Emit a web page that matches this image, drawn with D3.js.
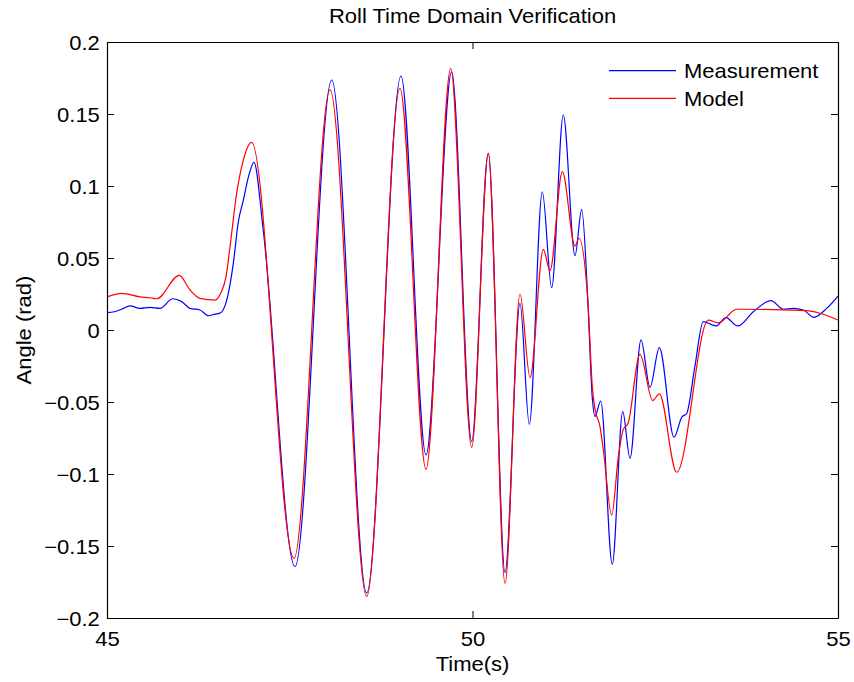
<!DOCTYPE html>
<html>
<head>
<meta charset="utf-8">
<script src="https://cdn.jsdelivr.net/npm/d3@7"></script>
<style>
  html, body { margin: 0; padding: 0; background: #fff; }
  svg { display: block; font-family: "Liberation Sans", Arial, Helvetica, sans-serif; }
</style>
</head>
<body>
<svg id="chart" width="854" height="682"></svg>
<script>
// ---------- data ----------
const title = "Roll Time Domain Verification";
const xLabel = "Time(s)";
const yLabel = "Angle (rad)";
const seriesNames = ["Measurement", "Model"];
const xTicks = [45, 50, 55];
const yTicks = [-0.2, -0.15, -0.1, -0.05, 0, 0.05, 0.1, 0.15, 0.2];
const yTickLabels = ["\u22120.2", "\u22120.15", "\u22120.1", "\u22120.05", "0", "0.05", "0.1", "0.15", "0.2"];

const measurementT = [45.000, 45.100, 45.201, 45.315, 45.451, 45.588, 45.725, 45.899, 46.022, 46.135, 46.272, 46.386, 46.477, 46.555, 46.628, 46.728, 46.796, 46.865, 46.933, 47.011, 47.138, 47.572, 48.074, 48.553, 49.022, 49.364, 49.715, 49.989, 50.216, 50.445, 50.650, 50.777, 50.955, 51.083, 51.242, 51.402, 51.494, 51.577, 51.637, 51.676, 51.754, 51.912, 52.055, 52.155, 52.305, 52.428, 52.556, 52.757, 52.862, 52.930, 53.040, 53.157, 53.331, 53.467, 53.628, 53.841, 54.083, 54.252, 54.389, 54.525, 54.672, 54.845, 55.000];
const measurementV = [0.0120, 0.0127, 0.0144, 0.0167, 0.0150, 0.0157, 0.0150, 0.0217, 0.0197, 0.0150, 0.0139, 0.0099, 0.0110, 0.0120, 0.0190, 0.0463, 0.0750, 0.0900, 0.1060, 0.1164, 0.0690, -0.1644, 0.1736, -0.1826, 0.1764, -0.0868, 0.1794, -0.0775, 0.1227, -0.1685, 0.0185, -0.0655, 0.0960, 0.0294, 0.1493, 0.0516, 0.0838, 0.0210, -0.0460, -0.0600, -0.0493, -0.1627, -0.0567, -0.0891, -0.0069, -0.0398, -0.0123, -0.0745, -0.0606, -0.0580, -0.0260, 0.0058, 0.0028, 0.0086, 0.0028, 0.0127, 0.0204, 0.0144, 0.0150, 0.0139, 0.0088, 0.0150, 0.0236];

const modelT = [45.000, 45.201, 45.451, 45.588, 45.680, 45.989, 46.135, 46.272, 46.477, 46.555, 46.628, 46.683, 46.774, 46.865, 46.979, 47.558, 48.051, 48.553, 49.008, 49.364, 49.702, 49.989, 50.216, 50.445, 50.650, 50.787, 50.969, 51.060, 51.229, 51.402, 51.457, 51.577, 51.640, 51.676, 51.744, 51.789, 51.904, 51.995, 52.063, 52.127, 52.291, 52.465, 52.556, 52.793, 53.226, 53.362, 53.614, 54.572, 54.754, 55.000];
const modelV = [0.0230, 0.0255, 0.0230, 0.0224, 0.0217, 0.0380, 0.0278, 0.0220, 0.0208, 0.0255, 0.0370, 0.0580, 0.0950, 0.1180, 0.1303, -0.1586, 0.1667, -0.1850, 0.1678, -0.0968, 0.1817, -0.0815, 0.1227, -0.1760, 0.0250, -0.0331, 0.0560, 0.0412, 0.1100, 0.0583, 0.0637, 0.0210, -0.0400, -0.0550, -0.0670, -0.0830, -0.1285, -0.0880, -0.0690, -0.0650, -0.0169, -0.0490, -0.0444, -0.0988, 0.0069, 0.0050, 0.0144, 0.0134, 0.0116, 0.0069];

const colors = ["#0000ff", "#ff0000"];

// ---------- layout ----------
const svg = d3.select("#chart");
const L = 107, R = 838, T = 42, B = 618;
const SX = 1.1; // horizontal stretch of the original font rendering

const x = d3.scaleLinear().domain([45, 55]).range([L, R]);
const y = d3.scaleLinear().domain([-0.2, 0.2]).range([B, T]);

function label(px, py, txt, anchor, rot) {
  const g = svg.append("g").attr("transform", `translate(${px},${py})` + (rot ? ` rotate(${rot})` : "") + ` scale(${SX},1)`);
  g.append("text").attr("text-anchor", anchor).attr("font-size", 20).attr("fill", "#000").text(txt);
}

// data lines
const line = d3.line().x(d => x(d[0])).y(d => y(d[1])).curve(d3.curveMonotoneX);
const meas = measurementT.map((t, i) => [t, measurementV[i]]);
const model = modelT.map((t, i) => [t, modelV[i]]);

svg.append("path").datum(meas).attr("d", line).attr("fill", "none").attr("stroke", colors[0]).attr("stroke-width", 1.2);
svg.append("path").datum(model).attr("d", line).attr("fill", "none").attr("stroke", colors[1]).attr("stroke-width", 1.2);

// axes (ticks inward, mirrored)
function styleAxis(g) {
  g.selectAll("path.domain").attr("stroke", "#000").attr("stroke-width", 1.2);
  g.selectAll("line").attr("stroke", "#000").attr("stroke-width", 1);
}
const ax = svg.append("g").attr("transform", `translate(0,${B})`)
  .call(d3.axisBottom(x).tickValues(xTicks).tickSizeInner(-7).tickSizeOuter(0).tickPadding(13.5).tickFormat(d3.format("d")));
ax.selectAll("text").attr("font-size", 20).attr("fill", "#000").attr("transform", `scale(${SX},1)`);
styleAxis(ax);

const ay = svg.append("g").attr("transform", `translate(${L},0)`)
  .call(d3.axisLeft(y).tickValues(yTicks).tickSizeInner(-7).tickSizeOuter(0).tickPadding(6.5).tickFormat((d, i) => yTickLabels[i]));
ay.selectAll("text").attr("font-size", 20).attr("fill", "#000").attr("dy", "0.36em").attr("transform", `scale(${SX},1)`);
styleAxis(ay);

const at = svg.append("g").attr("transform", `translate(0,${T})`)
  .call(d3.axisTop(x).tickValues(xTicks).tickSizeInner(-7).tickSizeOuter(0).tickFormat(""));
styleAxis(at);
const ar = svg.append("g").attr("transform", `translate(${R},0)`)
  .call(d3.axisRight(y).tickValues(yTicks).tickSizeInner(-7).tickSizeOuter(0).tickFormat(""));
styleAxis(ar);

// titles
label((L + R) / 2, 23.3, title, "middle");
label((L + R) / 2, 671, xLabel, "middle");
label(31, (T + B) / 2, yLabel, "middle", -90);

// legend
const legY = [70.7, 98.3];
seriesNames.forEach((name, i) => {
  svg.append("line").attr("x1", 609).attr("x2", 676).attr("y1", legY[i]).attr("y2", legY[i])
    .attr("stroke", colors[i]).attr("stroke-width", 1.2);
  label(684, legY[i] + 7.3, name, "start");
});
</script>
</body>
</html>
